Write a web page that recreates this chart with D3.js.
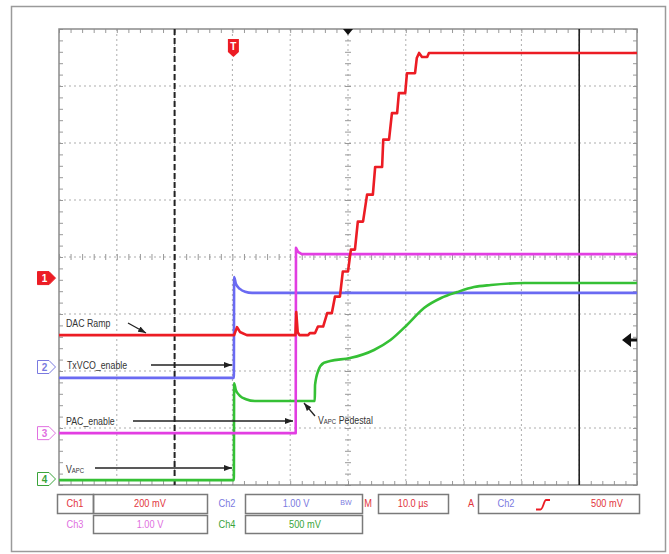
<!DOCTYPE html>
<html><head><meta charset="utf-8">
<script src="https://cdn.jsdelivr.net/npm/d3@7"></script>
<style>
html,body{margin:0;padding:0;background:#fff;}
svg{display:block;}
text{font-family:'Liberation Sans','Arial',sans-serif;}
</style></head><body>
<svg id="c" width="669" height="554"></svg>
<script>
// ---- data: [time µs, volts] ----
const ch1DacRamp = [
  [-30,-0.200],[0.3,-0.200],[0.8,-0.172],[1.3,-0.189],[2.5,-0.200],
  [10.9,-0.200],[11.05,-0.119],[11.3,-0.190],[11.6,-0.200],
  [13.1,-0.200],[13.4,-0.193],[14.3,-0.193],[14.8,-0.170],[15.7,-0.170],
  [16.4,-0.123],[17.2,-0.123],[17.75,-0.065],[18.6,-0.065],[19.1,0.023],[20.0,0.023],
  [20.5,0.100],[21.2,0.100],[21.7,0.198],[22.6,0.198],[23.3,0.293],[24.3,0.293],
  [24.7,0.390],[25.9,0.390],[26.1,0.486],[27.1,0.486],[27.6,0.579],[28.5,0.579],
  [28.8,0.649],[29.9,0.649],[30.2,0.719],[31.6,0.719],[31.9,0.772],[32.3,0.790],
  [32.8,0.776],[33.7,0.776],[34.0,0.790],[70,0.790]
];
const ch2TxVcoEnable = [
  [-30,-0.19],[0.25,-0.19],[0.3,1.58],[0.6,1.46],[1.3,1.37],[2.2,1.32],[3.4,1.30],[70,1.30]
];
const ch3PacEnable = [
  [-30,0],[10.95,0],[11.0,3.25],[11.35,3.18],[12.0,3.14],[70,3.14]
];
const ch4Vapc = [
  [-30,-0.01],[0.25,-0.01],[0.3,0.84],[0.6,0.78],[1.3,0.73],[2.35,0.70],[3.9,0.684],
  [14.25,0.684],[14.3,0.825],[14.9,0.956],[15.8,1.018],[16.9,1.035],[20.35,1.061],
  [24.5,1.132],[27.35,1.219],[30.2,1.351],[33.15,1.500],[36.1,1.588],[38.9,1.640],
  [41.8,1.684],[44.7,1.702],[50.5,1.719],[70,1.719]
];
const channelNames = ["1","2","3","4"];
const channelVoltsPerDiv = [0.2, 1.0, 1.0, 0.5];
const channelGroundDiv = [-0.37, -1.93, -3.09, -3.895];
const timeDomain = [-30, 70];      // µs, 10 µs/div
const divDomain = [-4, 4];
const cursorTimes = [-10, 60];
const triggerTime = 0;
const readoutRow1 = ["Ch1","200 mV","Ch2","1.00 V","BW","M","10.0 µs","A","Ch2","500 mV"];
const readoutRow2 = ["Ch3","1.00 V","Ch4","500 mV"];
const labelNames = ["DAC Ramp","TxVCO_enable","PAC_enable","V","APC","V","APC"," Pedestal"];

// ---- layout / style ----
const P = {left:59, right:637, top:29, bottom:485};
const colors = ["#ec1c24","#6a6af2","#e23ee2","#35c035"];
const textColors = ["#e2343c","#7a7ae0","#e070e0","#3aa43a"];
const svg = d3.select("#c");
svg.append("rect").attr("width",669).attr("height",554).attr("fill","#fff");
svg.append("rect").attr("x",11.5).attr("y",6.5).attr("width",654).attr("height",545)
  .attr("fill","none").attr("stroke","#9a9a9a").attr("stroke-width",1.5);

const x = d3.scaleLinear().domain(timeDomain).range([P.left, P.right]);
const yDiv = d3.scaleLinear().domain(divDomain).range([P.bottom, P.top]);
const chY = (i, v) => yDiv(channelGroundDiv[i] + v / channelVoltsPerDiv[i]);

const defs = svg.append("defs");
defs.append("clipPath").attr("id","clip").append("rect")
  .attr("x",P.left).attr("y",P.top).attr("width",P.right-P.left).attr("height",P.bottom-P.top);
defs.append("marker").attr("id","arr").attr("viewBox","0 0 8 6").attr("refX",8).attr("refY",3)
  .attr("markerWidth",8).attr("markerHeight",6).attr("markerUnits","userSpaceOnUse")
  .attr("orient","auto").append("path").attr("d","M0,0L8,3L0,6Z").attr("fill","#222");

// grid
const grid = svg.append("g").attr("stroke","#adadad").attr("stroke-width",1).attr("stroke-dasharray","2,3");
grid.selectAll(".vg").data(d3.range(timeDomain[0]+10, timeDomain[1], 10)).join("line")
  .attr("x1",d=>x(d)).attr("x2",d=>x(d)).attr("y1",P.top).attr("y2",P.bottom);
grid.selectAll(".hg").data(d3.range(divDomain[0]+1, divDomain[1], 1)).join("line")
  .attr("y1",d=>yDiv(d)).attr("y2",d=>yDiv(d)).attr("x1",P.left).attr("x2",P.right);

// minor ticks via axes
const minorT = d3.range(timeDomain[0], timeDomain[1]+0.01, 2);
const minorD = d3.range(divDomain[0], divDomain[1]+0.01, 0.2);
function styleAxis(g){ g.select(".domain").remove(); g.selectAll("line").attr("stroke","#999"); }
svg.append("g").attr("transform",`translate(0,${P.top})`).call(d3.axisBottom(x).tickValues(minorT).tickSize(4).tickFormat("")).call(styleAxis);
svg.append("g").attr("transform",`translate(0,${P.bottom})`).call(d3.axisTop(x).tickValues(minorT).tickSize(4).tickFormat("")).call(styleAxis);
svg.append("g").attr("transform",`translate(${P.left},0)`).call(d3.axisRight(yDiv).tickValues(minorD).tickSize(4).tickFormat("")).call(styleAxis);
svg.append("g").attr("transform",`translate(${P.right},0)`).call(d3.axisLeft(yDiv).tickValues(minorD).tickSize(4).tickFormat("")).call(styleAxis);
svg.append("g").attr("transform",`translate(0,${yDiv(0)})`).call(d3.axisBottom(x).tickValues(minorT).tickSize(3).tickFormat("")).call(styleAxis);
svg.append("g").attr("transform",`translate(0,${yDiv(0)})`).call(d3.axisTop(x).tickValues(minorT).tickSize(3).tickFormat("")).call(styleAxis);
svg.append("g").attr("transform",`translate(${x(20)},0)`).call(d3.axisRight(yDiv).tickValues(minorD).tickSize(3).tickFormat("")).call(styleAxis);
svg.append("g").attr("transform",`translate(${x(20)},0)`).call(d3.axisLeft(yDiv).tickValues(minorD).tickSize(3).tickFormat("")).call(styleAxis);

// border
svg.append("rect").attr("x",P.left).attr("y",P.top).attr("width",P.right-P.left).attr("height",P.bottom-P.top)
  .attr("fill","none").attr("stroke","#8a8a8a").attr("stroke-width",1.5);

// cursors
svg.append("line").attr("x1",x(cursorTimes[0])).attr("x2",x(cursorTimes[0])).attr("y1",P.top).attr("y2",P.bottom)
  .attr("stroke","#222").attr("stroke-width",2).attr("stroke-dasharray","6,3");
svg.append("line").attr("x1",x(cursorTimes[1])).attr("x2",x(cursorTimes[1])).attr("y1",P.top).attr("y2",P.bottom)
  .attr("stroke","#222").attr("stroke-width",1.6);

// traces
const traces = [ch1DacRamp, ch2TxVcoEnable, ch3PacEnable, ch4Vapc];
const curves = [d3.curveLinear, d3.curveMonotoneX, d3.curveLinear, d3.curveMonotoneX];
const order = [1,3,2,0];
const tg = svg.append("g").attr("clip-path","url(#clip)");
order.forEach(i=>{
  const line = d3.line().curve(curves[i]).x(d=>x(d[0])).y(d=>chY(i,d[1]));
  tg.append("path").attr("d",line(traces[i])).attr("fill","none").attr("stroke",colors[i])
    .attr("stroke-width",2.6).attr("stroke-linejoin","round");
});

// channel markers
channelNames.forEach((n,i)=>{
  const cy = chY(i,0);
  const g = svg.append("g");
  g.append("path").attr("d",`M37.5,${cy-6.5}H49L55.5,${cy}L49,${cy+6.5}H37.5Z`)
    .attr("fill", i===0?colors[0]:"#fff").attr("stroke", i===0?colors[0]:textColors[i]).attr("stroke-width",1);
  g.append("text").attr("x",44.5).attr("y",cy+4).attr("text-anchor","middle").attr("font-size",10)
    .attr("font-weight","bold").attr("fill", i===0?"#fff":textColors[i]).text(n);
});

// top center marker & trigger marker
svg.append("path").attr("d",`M${x(20)-5},${P.top}L${x(20)+5},${P.top}L${x(20)},${P.top+6}Z`).attr("fill","#111");
const tx = x(triggerTime)+1;
svg.append("path").attr("d",`M${tx-5.5},39H${tx+5.5}V52L${tx},57L${tx-5.5},52Z`).attr("fill",colors[0]);
svg.append("text").attr("x",tx).attr("y",50).attr("text-anchor","middle").attr("font-size",10)
  .attr("font-weight","bold").attr("fill","#fff").text("T");
// right trigger-level arrow
const ty = 340;
svg.append("path").attr("d",`M622,${ty}L631,${ty-7}V${ty-1.5}H637V${ty+1.5}H631V${ty+7}Z`).attr("fill","#111");

// annotations (condensed text)
const SX = 0.8;
const ann = svg.append("g").attr("font-size",11).attr("fill","#333");
function ctext(g, px, py, sx){ return g.append("text").attr("transform",`translate(${px},${py}) scale(${sx},1)`); }
ctext(ann,66,327,SX).text(labelNames[0]);
ctext(ann,67,369,SX).text(labelNames[1]);
ctext(ann,66,425,SX).text(labelNames[2]);
const va = ctext(ann,66,473,SX);
va.append("tspan").text(labelNames[3]);
va.append("tspan").attr("font-size",7.5).text(labelNames[4]);
const vp = ctext(ann,318,424,SX);
vp.append("tspan").text(labelNames[5]);
vp.append("tspan").attr("font-size",7.5).text(labelNames[6]);
vp.append("tspan").text(labelNames[7]);
const arrows = [[128,323,146,333],[151,365,232,365],[133,421,293,421],[95,468,232,468],[315,416,304,403]];
svg.append("g").selectAll("line").data(arrows).join("line")
  .attr("x1",d=>d[0]).attr("y1",d=>d[1]).attr("x2",d=>d[2]).attr("y2",d=>d[3])
  .attr("stroke","#222").attr("stroke-width",1.3).attr("marker-end","url(#arr)");

// readout boxes
const boxes = [[57,494,36,19],[93,494,114,19],[245,494,117,19],[378,494,70,19],[478,494,161,19],
               [93,515,114,18],[245,515,117,18]];
svg.append("g").selectAll("rect").data(boxes).join("rect")
  .attr("x",d=>d[0]+0.5).attr("y",d=>d[1]+0.5).attr("width",d=>d[2]).attr("height",d=>d[3])
  .attr("fill","none").attr("stroke","#7a7a7a").attr("stroke-width",1.5);
const r1 = [[75,0],[150,0],[227,1],[296,1],[346,1],[368,0],[413,0],[471,0],[506,1],[607,0]];
const rg = svg.append("g").attr("font-size",10.5).attr("text-anchor","middle");
readoutRow1.forEach((t,i)=>{
  ctext(rg, r1[i][0], t==="BW"?505:507, 0.88).attr("fill",textColors[r1[i][1]])
    .attr("font-size", t==="BW"?8:10.5).text(t);
});
const r2 = [[75,2],[150,2],[227,3],[305,3]];
readoutRow2.forEach((t,i)=>{
  ctext(rg, r2[i][0], 528, 0.88).attr("fill",textColors[r2[i][1]]).text(t);
});
svg.append("path").attr("d","M536,509.5H540.5C543,509.5 544,500 546,500H550").attr("fill","none")
  .attr("stroke",colors[0]).attr("stroke-width",1.8);
</script>
</body></html>
